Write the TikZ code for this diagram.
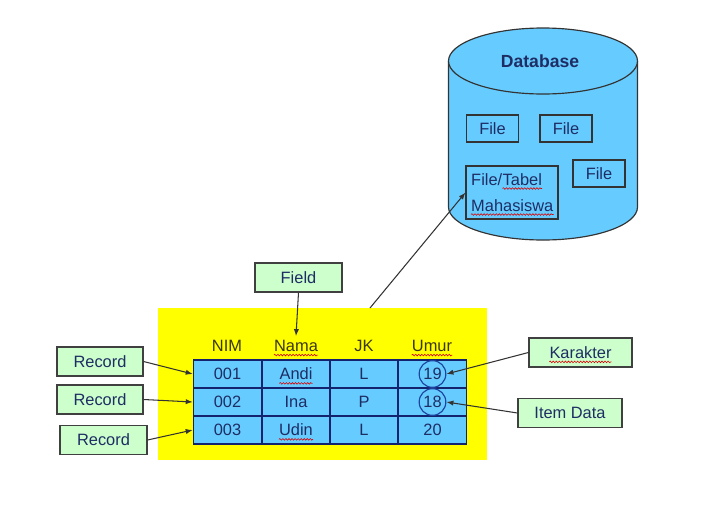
\documentclass[tikz,border=0pt]{standalone}
\usepackage{fontspec}
\setmainfont{Liberation Sans}
\usetikzlibrary{arrows.meta, decorations.pathmorphing}
\definecolor{sheetyellow}{RGB}{255,255,0}
\definecolor{cellblue}{RGB}{102,204,255}
\definecolor{tagleaf}{RGB}{204,255,204}
\definecolor{inkblue}{RGB}{30,45,100}
\definecolor{gridnavy}{RGB}{20,35,110}
\definecolor{headink}{RGB}{60,55,20}
\definecolor{ringblue}{RGB}{30,70,160}
\tikzset{
  tag/.style={
    draw=black!75,
    line width=1pt,
    fill=tagleaf,
    text=inkblue,
    minimum height=0.87cm,
    inner sep=2pt
  },
  cell/.style={
    draw=gridnavy,
    line width=1.3pt,
    fill=cellblue,
    text=inkblue,
    minimum width=2.04cm,
    minimum height=0.84cm
  },
  word/.style={
    inner xsep=0pt,
    text=inkblue
  },
  head/.style={
    word,
    text=headink
  },
  filebox/.style={
    draw=black!80,
    line width=0.9pt,
    text=inkblue,
    minimum width=1.56cm,
    minimum height=0.81cm
  },
  ring/.style={
    circle,
    draw=ringblue,
    line width=1pt,
    inner sep=0pt,
    minimum size=0.8cm
  },
  pointer/.style={
    -{Latex[length=6pt, width=4.5pt]},
    line width=0.9pt,
    draw=black!80
  },
  spell/.style={
    draw=red!85!black,
    line width=0.5pt,
    decorate,
    decoration={snake, amplitude=0.7pt, segment length=2.6pt}
  }
}

\begin{document}
\begin{tikzpicture}[x=0.03cm, y=-0.03cm, font=\fontsize{14}{16}\selectfont]
  \useasboundingbox (0,0) rectangle (720,527);
  \pgfmathsetmacro{\rx}{2.835}   % cylinder radii in cm
  \pgfmathsetmacro{\ry}{0.99}

  %% ---- database cylinder ----
  \filldraw[fill=cellblue, draw=black!80, line width=1pt]
    (448.5,61) -- (448.5,207) arc[start angle=180, end angle=360, x radius=\rx cm, y radius=\ry cm]
    -- (637.5,61);
  \filldraw[fill=cellblue, draw=black!80, line width=1pt]
    (543,61) ellipse[x radius=\rx cm, y radius=\ry cm];
  \node[font=\fontsize{15}{17}\selectfont\bfseries, text=inkblue] (dbname) at (540,61) {Database};

  \node[filebox] (file1) at (492.5,128.5) {File};
  \node[filebox] (file2) at (566,128.5) {File};
  \node[filebox] (file3) at (599,173.5) {File};
  \node[filebox, minimum width=2.76cm, minimum height=1.59cm] (mhs) at (512,192.5) {};
  \node[word, anchor=base west] (tfile)  at (471,185) {File/};
  \node[word, anchor=base west] (ttabel) at (tfile.base east) {Tabel};
  \node[word, anchor=base west] (tmhs)   at (471,211) {Mahasiswa};

  %% ---- sheet with table ----
  \fill[sheetyellow] (158,308) rectangle (487,460);
  \coordinate (link) at (370,308);

  \node[head] (hnim)  at (227,346) {NIM};
  \node[head] (hnama) at (296,346) {Nama};
  \node[head] (hjk)   at (364,346) {JK};
  \node[head] (humur) at (432,346) {Umur};

  \foreach \nim/\nama/\jk/\umur [count=\r] in
      {001/Andi/L/19, 002/Ina/P/18, 003/Udin/L/20} {
    \pgfmathsetmacro{\yy}{374 + 28*(\r-1)}
    \node[cell] (nim\r)  at (227.5,\yy) {\nim};
    \node[cell] (nama\r) at (296,\yy)   {};
    \node[word] (tnama\r) at (nama\r)   {\nama};
    \node[cell] (jk\r)   at (364,\yy)   {\jk};
    \node[cell] (umur\r) at (432.5,\yy) {\umur};
  }
  \node[ring] (ring1) at (umur1.center) {};
  \node[ring] (ring2) at (umur2.center) {};

  %% ---- labels ----
  \node[tag, minimum width=2.61cm] (field) at (298.5,277.5) {Field};
  \node[tag, minimum width=2.58cm] (rec1) at (100,361.5) {Record};
  \node[tag, minimum width=2.58cm] (rec2) at (100,399.5) {Record};
  \node[tag, minimum width=2.61cm] (rec3) at (103.5,440) {Record};
  \node[tag, minimum width=3.09cm] (kar)  at (580.5,352.5) {};
  \node[word] (tkar) at (kar) {Karakter};
  \node[tag, minimum width=3.12cm] (item) at (570,413) {Item Data};

  %% ---- spelling marks ----
  \foreach \w in {ttabel, tmhs, hnama, humur, tnama1, tnama3, tkar}
    \draw[spell] ([yshift=-3pt]\w.base west) -- ([yshift=-3pt]\w.base east);

  %% ---- pointers ----
  \draw[pointer] (field.south) -- (hnama.north);
  \draw[pointer] (rec1.east) -- (nim1.west);
  \draw[pointer] (rec2.east) -- (nim2.west);
  \draw[pointer] (rec3.east) -- (nim3.west);
  \draw[pointer] (kar.west) -- (ring1.east);
  \draw[pointer] (item.west) -- (ring2.east);
  \draw[pointer] (link) -- (mhs.west);

\end{tikzpicture}
\end{document}
